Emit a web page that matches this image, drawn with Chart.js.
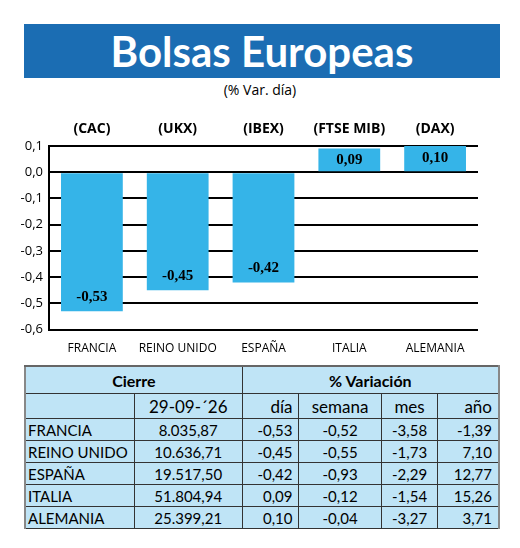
<!DOCTYPE html>
<html>
<head>
<meta charset="utf-8">
<script src="https://cdn.jsdelivr.net/npm/chart.js@4"></script>
<style>
body{margin:0;width:520px;height:548px;background:#fff;font-family:"Open Sans",sans-serif;position:relative;overflow:hidden}
#banner{position:absolute;left:24px;top:24px;width:476px;height:54px;background:#1b6db3;color:#fff;font-weight:bold;font-size:42px;text-align:center;line-height:54px;font-family:Lato,sans-serif}
#sub{position:absolute;left:0;width:520px;top:80px;text-align:center;font-size:14px}
#wrap{position:absolute;left:0;top:112px;width:520px;height:250px}
table{position:absolute;left:24px;top:365px;width:476px;border-collapse:collapse;background:#bfe4f6;font-size:15px;font-family:Lato,sans-serif;border-top:2px solid #666;border-left:2px solid #888;border-right:2px solid #888}
td{padding:0 6px;height:21px;text-align:right;border-bottom:1px solid #333;white-space:nowrap}
td.n{text-align:left;padding-left:2px}
.vl{border-left:1px solid #333}
tr.h td{font-weight:bold;text-align:center;height:26px;font-size:16px}
tr.h2 td{font-size:17px;height:24px}
</style>
</head>
<body>
<div id="banner">Bolsas Europeas</div>
<div id="sub">(% Var. día)</div>
<div id="wrap"><canvas id="c"></canvas></div>
<table id="t"></table>
<script>
const countries = ["FRANCIA","REINO UNIDO","ESPAÑA","ITALIA","ALEMANIA"];
const indices = ["(CAC)","(UKX)","(IBEX)","(FTSE MIB)","(DAX)"];
const dayVar = [-0.53,-0.45,-0.42,0.09,0.10];
const cierre = ["8.035,87","10.636,71","19.517,50","51.804,94","25.399,21"];
const weekVar = ["-0,52","-0,55","-0,93","-0,12","-0,04"];
const monthVar = ["-3,58","-1,73","-2,29","-1,54","-3,27"];
const yearVar = ["-1,39","7,10","12,77","15,26","3,71"];
const fmt = v => v.toFixed(2).replace(".", ",");

let h = '<tr class="h"><td colspan="2">Cierre</td><td colspan="4" class="vl">% Variación</td></tr>';
h += '<tr class="h2"><td style="width:92px"></td><td class="vl" style="text-align:center">29-09-´26</td><td class="vl">día</td><td class="vl" style="text-align:center">semana</td><td class="vl" style="text-align:center">mes</td><td class="vl">año</td></tr>';
for (let i = 0; i < countries.length; i++) {
  h += '<tr><td class="n">' + countries[i] + '</td><td class="vl" style="text-align:center">' + cierre[i] + '</td><td class="vl">' + fmt(dayVar[i]) +
    '</td><td class="vl" style="text-align:center">' + weekVar[i] + '</td><td class="vl" style="text-align:center">' + monthVar[i] + '</td><td class="vl">' + yearVar[i] + '</td></tr>';
}
document.getElementById("t").innerHTML = h;

const labelsPlugin = {
  id: "labels",
  afterDatasetsDraw(chart) {
    const ctx = chart.ctx;
    const meta = chart.getDatasetMeta(0);
    ctx.save();
    ctx.textAlign = "center";
    meta.data.forEach((bar, i) => {
      ctx.fillStyle = "#000";
      ctx.font = "bold 14px 'Open Sans'";
      ctx.textBaseline = "middle";
      ctx.fillText(indices[i], bar.x, chart.chartArea.top - 17);
      ctx.font = "bold 15px 'Liberation Serif'";
      const v = dayVar[i];
      const y = v < 0 ? bar.y - 14 : (bar.y + bar.base) / 2;
      ctx.fillText(fmt(v), bar.x, y);
    });
    ctx.restore();
  }
};

new Chart(document.getElementById("c"), {
  type: "bar",
  data: { labels: countries, datasets: [{ data: dayVar, backgroundColor: "#35b4e8", categoryPercentage: 0.72, barPercentage: 1 }] },
  plugins: [labelsPlugin],
  options: {
    animation: false, responsive: true, maintainAspectRatio: false,
    layout: { padding: { top: 34, right: 42, bottom: 2, left: 0 } },
    plugins: { legend: { display: false }, tooltip: { enabled: false } },
    scales: {
      x: { grid: { display: false }, border: { display: false },
        ticks: { color: "#000", font: { size: 12, family: "'Open Sans'" }, padding: 4, maxRotation: 0, minRotation: 0, autoSkip: false } },
      y: { min: -0.6, max: 0.1,
        afterFit: s => { s.width = 49; },
        grid: { color: "#000", lineWidth: 2, drawTicks: false },
        border: { color: "#000", width: 2 },
        ticks: { stepSize: 0.1, color: "#000", padding: 6, font: { size: 13, family: "'Open Sans'" },
          callback: v => v.toFixed(1).replace(".", ",") } }
    }
  }
});
</script>
</body>
</html>
